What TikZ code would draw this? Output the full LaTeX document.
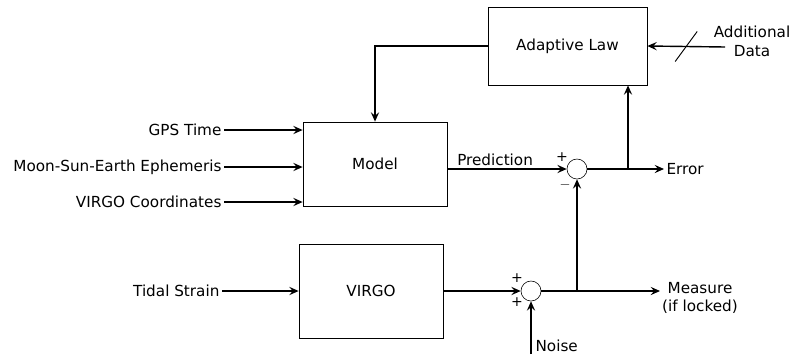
\documentclass[tikz,border=0pt]{standalone}
\usepackage{fontspec}
\setmainfont{DejaVu Sans}
\usetikzlibrary{arrows.meta,positioning,calc}

\begin{document}
\begin{tikzpicture}[
    x=0.03cm, y=-0.03cm,
    >={Stealth[length=8pt, width=7pt, inset=3pt]},
    block/.style={draw, line width=0.6pt, inner sep=0pt, font=\fontsize{13}{15}\selectfont},
    junction/.style={draw, circle, line width=0.5pt, minimum size=0.6cm, inner sep=0pt},
    arrow/.style={->, line width=1.2pt},
    lbl/.style={font=\fontsize{13}{16}\selectfont, inner sep=2pt},
    sgn/.style={font=\fontsize{12}{14}\selectfont, inner sep=0pt}
  ]
    \useasboundingbox (0,0) rectangle (794,357);

    % blocks
    \node[block, minimum width=4.77cm, minimum height=2.34cm] (adapt) at (567.5,46) {Adaptive Law};
    \node[block, minimum width=4.32cm, minimum height=2.52cm] (model) at (375,164) {Model};
    \node[block, minimum width=4.32cm, minimum height=2.82cm] (virgo) at (371,291) {VIRGO};
    \node[junction] (sumA) at (577,169) {};
    \node[junction] (sumB) at (531,291) {};

    % inputs
    \node[lbl, anchor=east] (gps) at (224,130) {GPS Time};
    \node[lbl, anchor=east] (ephem) at (224,167) {Moon-Sun-Earth Ephemeris};
    \node[lbl, anchor=east] (coords) at (224,202) {VIRGO Coordinates};
    \node[lbl, anchor=east] (tidal) at (222,291) {Tidal Strain};
    \node[lbl, align=center] (extra) at (752,41) {Additional\\Data};
    \node[lbl, anchor=west] (noise) at (533,346) {Noise};

    % outputs
    \node[lbl, anchor=west] (error) at (664,169) {Error};
    \node[lbl, align=center] (meas) at (700,298) {Measure\\(if locked)};

    \coordinate (dataIn) at (725,47);
    \coordinate (noiseIn) at (531,354);
    \coordinate (measOut) at (660,291);
    \coordinate (tapA) at (628,169);
    \coordinate (tapB) at (577,291);

    \draw[arrow] (gps) -- (gps -| model.west);
    \draw[arrow] (ephem) -- (ephem -| model.west);
    \draw[arrow] (coords) -- (coords -| model.west);
    \draw[arrow] (tidal) -- (tidal -| virgo.west);

    \draw[arrow] (model.east |- sumA) -- node[lbl, above, pos=0.4] {Prediction} (sumA.west);
    \draw[arrow] (sumA.east) -- (error.west);
    \draw[arrow] (tapA) -- (tapA |- adapt.south);
    \draw[arrow] (adapt.west) -| (model.north);
    \draw[arrow] (dataIn) -- (adapt.east);
    \draw[line width=0.8pt] ($(dataIn)!0.5!(adapt.east)$) +(-11,15) -- +(11,-15);

    \draw[arrow] (virgo.east) -- (sumB.west);
    \draw[arrow] (noiseIn) -- (sumB.south);
    \draw[arrow] (sumB.east) -- (measOut);
    \draw[arrow] (tapB) -- (sumA.south);

    % signs
    \node[sgn] at (562,157) {+};
    \node[sgn] at (565,185) {$-$};
    \node[sgn] at (517,278) {+};
    \node[sgn] at (517,302) {+};
\end{tikzpicture}
\end{document}
